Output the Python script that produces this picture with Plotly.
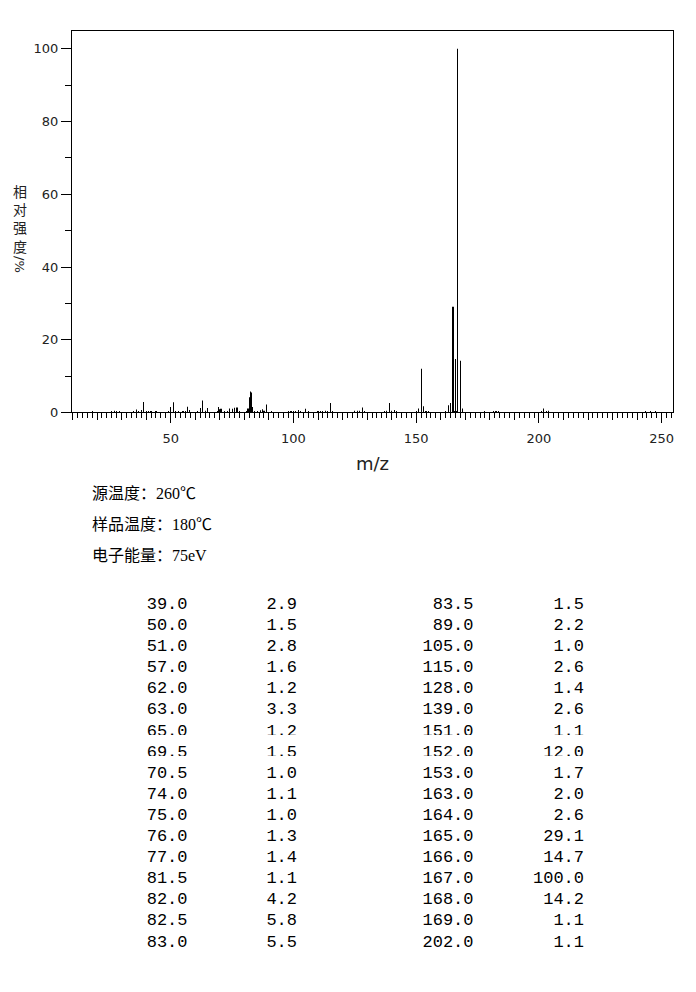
import plotly.graph_objects as go

# peaks listed in the table (m/z, relative intensity %)
table_mz = [39.0, 50.0, 51.0, 57.0, 62.0, 63.0, 65.0, 69.5, 70.5, 74.0, 75.0, 76.0, 77.0, 81.5, 82.0, 82.5, 83.0,
            83.5, 89.0, 105.0, 115.0, 128.0, 139.0, 151.0, 152.0, 153.0, 163.0, 164.0, 165.0, 166.0, 167.0, 168.0,
            169.0, 202.0]
table_int = [2.9, 1.5, 2.8, 1.6, 1.2, 3.3, 1.2, 1.5, 1.0, 1.1, 1.0, 1.3, 1.4, 1.1, 4.2, 5.8, 5.5,
             1.5, 2.2, 1.0, 2.6, 1.4, 2.6, 1.1, 12.0, 1.7, 2.0, 2.6, 29.1, 14.7, 100.0, 14.2,
             1.1, 1.1]

# weak peaks (< 1 %)
minor_mz = [18, 26, 27, 28, 29, 35, 36, 37, 38, 40, 41, 42, 44, 49, 52, 53, 55, 56, 57.5, 61, 64, 69, 70,
            72, 73, 78, 81, 84, 85.5, 86.5, 87.5, 88, 91, 98, 99, 100, 101, 102, 103, 106, 110, 111, 112,
            113, 114, 116, 125, 126, 127, 129, 137, 138, 140, 141, 142, 150, 154, 155, 162, 165.5, 166.5,
            178, 181.5, 182.5, 183.5, 201, 203, 204, 243.5, 245.5, 247.5]
minor_int = [0.4, 0.3, 0.5, 0.3, 0.3, 0.4, 0.8, 0.4, 0.7, 0.3, 0.4, 0.3, 0.3, 0.3, 0.4, 0.3, 0.3, 0.3, 0.7,
             0.3, 0.5, 0.3, 0.9, 0.3, 0.3, 0.4, 0.4, 0.4, 0.4, 0.6, 0.9, 0.5, 0.4, 0.3, 0.3, 0.3, 0.3, 0.7,
             0.3, 0.3, 0.3, 0.3, 0.3, 0.5, 0.3, 0.3, 0.5, 0.5, 0.5, 0.3, 0.3, 0.5, 0.5, 0.7, 0.3, 0.3, 0.4,
             0.3, 0.4, 0.4, 0.4, 0.3, 0.3, 0.3, 0.3, 0.4, 0.3, 0.5, 0.3, 0.3, 0.3]

info_lines = ["源温度：260℃", "样品温度：180℃", "电子能量：75eV"]

# the page body adds an 8px margin, so the figure is a bit smaller
OFF = 8
W, H = 680, 976
ML, MR, MT, MB = 64, 15, 23, 0


def fx(px):
    # reference pixel -> paper fraction
    return (px - OFF - ML) / (W - ML - MR)


def fy(py):
    return (H - MB - (py - OFF)) / (H - MT - MB)


spec_mz = table_mz + minor_mz
spec_int = table_int + minor_int

fig = go.Figure()
# very thin bars: plotly snaps them to a single pixel column
fig.add_trace(go.Bar(x=spec_mz, y=spec_int, width=0.05, marker_color="black",
                     marker_line_width=0, hoverinfo="x+y"))
fig.add_trace(go.Scatter(x=[], y=[], xaxis="x2", showlegend=False))

# table below the spectrum, split in two halves
half = len(table_mz) // 2
cols = [table_mz[:half], table_int[:half], table_mz[half:], table_int[half:]]
cols = [[f"{v:.1f}" for v in c] for c in cols]
cell_font = dict(family="Liberation Mono", size=17, color="black")
fig.add_trace(go.Table(
    domain=dict(x=[fx(100), fx(592)], y=[fy(982), fy(593)]),
    columnwidth=[95.5, 109.5, 176.5, 110.5],
    header=dict(values=[c[0] for c in cols], align="right", height=21, font=cell_font,
                fill_color="white", line_color="white"),
    cells=dict(values=[c[1:] for c in cols], align="right", height=21.1, font=cell_font,
               fill_color="white", line_color="white"),
))

tick_font = dict(family="DejaVu Sans", size=13, color="#222")
fig.update_layout(
    width=W, height=H,
    margin=dict(l=ML, r=MR, t=MT, b=MB),
    paper_bgcolor="white", plot_bgcolor="white",
    showlegend=False,
    xaxis=dict(range=[9.8, 254.6], showline=True, linecolor="black", linewidth=1, mirror=True,
               showgrid=False, zeroline=False, ticks="outside", tick0=0, dtick=10, ticklen=7,
               tickcolor="black", showticklabels=False, anchor="y",
               minor=dict(dtick=2, ticks="outside", ticklen=5, tickcolor="black", showgrid=False)),
    xaxis2=dict(range=[9.8, 254.6], overlaying="x", anchor="y", side="bottom", showline=False,
                showgrid=False, zeroline=False, ticks="outside", tickvals=[50, 100, 150, 200, 250],
                ticklen=10, tickcolor="black", tickfont=tick_font, ticklabelstandoff=4,
                title=dict(text="m/z", font=dict(family="DejaVu Sans", size=18, color="#222"), standoff=12)),
    yaxis=dict(range=[0, 104.9], domain=[fy(415.7), 1], showline=True, linecolor="black", linewidth=1,
               mirror=True, showgrid=False, zeroline=False, ticks="outside", tick0=0, dtick=20,
               ticklen=10, tickcolor="black", tickfont=tick_font,
               minor=dict(dtick=10, ticks="outside", ticklen=6, tickcolor="black", showgrid=False)),
)

# vertical y-axis title: CJK upright, "/%" turned
fig.add_annotation(text="<br>".join("相对强度"), xref="paper", yref="paper", x=fx(20), y=fy(220),
                   xanchor="center", yanchor="middle", showarrow=False,
                   font=dict(family="Noto Sans CJK SC", size=14, color="#222"))
fig.add_annotation(text="/%", xref="paper", yref="paper", x=fx(20), y=fy(267), textangle=90,
                   xanchor="center", yanchor="middle", showarrow=False,
                   font=dict(family="DejaVu Sans", size=13, color="#222"))

for i, line in enumerate(info_lines):
    fig.add_annotation(text=line, xref="paper", yref="paper", x=fx(90), y=fy(497 + 31.5 * i),
                       xanchor="left", yanchor="middle", showarrow=False,
                       font=dict(family="Liberation Serif, Noto Sans CJK SC", size=16, color="black"))

fig.write_html("out.html")
